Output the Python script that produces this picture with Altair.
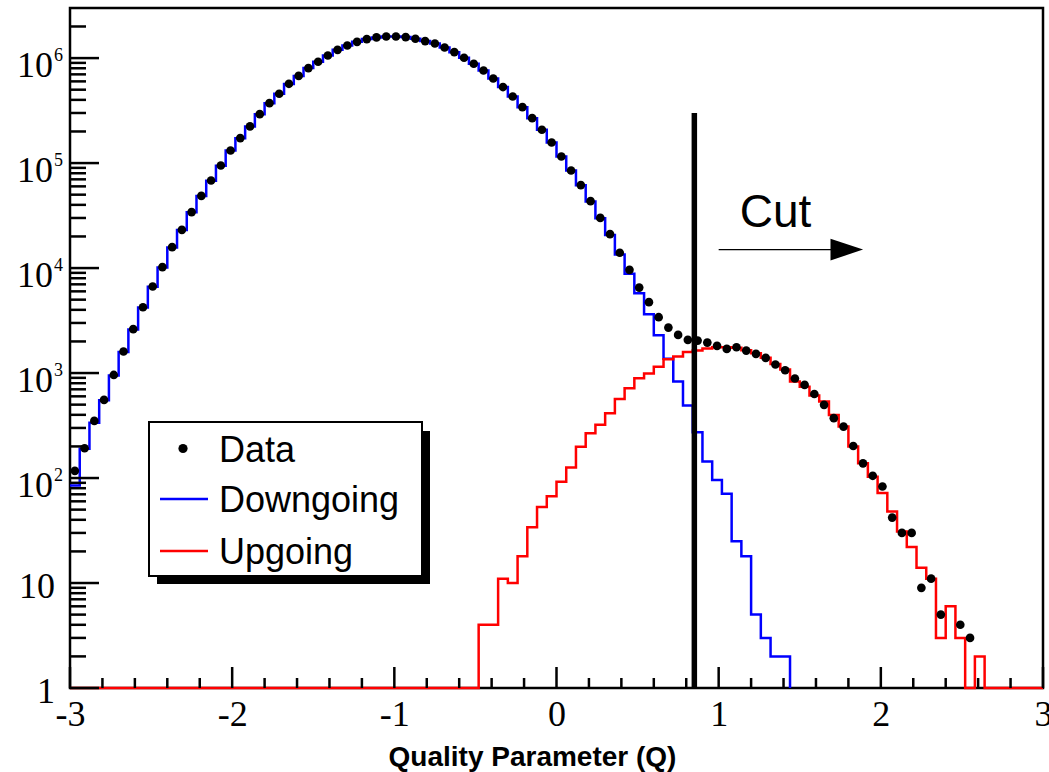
import altair as alt
import pandas as pd

# ---------------- binning / ranges ----------------
q_min, q_max = -3.0, 3.0
bin_width = 0.06
y_min, y_max = 1.0, 3.0e6

# ---------------- histogram contents (100 bins of 0.06 from -3 to 3) ----------------
data_counts = [
    117, 192, 350, 555, 959, 1603, 2618, 4236, 6668, 10210,
    15810, 23120, 34120, 48750, 68230, 94840, 131800, 173000, 223400, 292400,
    372400, 457100, 568900, 677600, 803500, 922600, 1059000, 1199000, 1318000, 1429000,
    1517000, 1574000, 1607000, 1607000, 1585000, 1528000, 1452000, 1377000, 1262000, 1140000,
    1007000, 883100, 762100, 639700, 529700, 430500, 341200, 267900, 207500, 157000,
    115600, 84920, 61660, 43350, 30060, 21040, 14000, 9616, 6516, 4732,
    3404, 2710, 2307, 2070, 2037, 1950, 1816, 1698, 1762, 1637,
    1524, 1393, 1205, 1064, 887, 771, 632, 498, 372, 309,
    202, 138, 105, 83, 42, 30, 30, 9, 11, 5,
    0, 4, 3, 0, 0, 0, 0, 0, 0, 0,
]

down_counts = [
    85, 190, 337, 550, 950, 1590, 2600, 4200, 6620, 10150,
    15700, 23000, 34000, 48600, 68000, 94500, 131500, 172500, 223000, 292000,
    372000, 456500, 568000, 677000, 803000, 922000, 1058000, 1198000, 1317000, 1428000,
    1516000, 1573000, 1606000, 1606000, 1584000, 1527000, 1451000, 1376000, 1261000, 1139000,
    1006000, 882000, 761000, 639000, 529500, 430300, 341000, 267800, 207400, 156900,
    115500, 84800, 61460, 43080, 29740, 20630, 13430, 8810, 5770, 3630,
    2290, 1370, 830, 490, 273, 144, 96, 71, 25, 18,
    5, 3, 2, 2,
]

up_counts = [0] * 42 + [
    4, 4, 11, 10, 18, 34, 53, 67, 92, 126,
    199, 267, 321, 414, 567, 717, 893, 990, 1150, 1355,
    1440, 1590, 1640, 1710, 1760, 1760, 1740, 1650, 1540, 1400,
    1220, 1080, 830, 740, 610, 535, 399, 309, 200, 138,
    103, 72, 48, 31, 22, 14, 11, 3, 6, 3,
    0, 2, 0, 0, 0, 0, 0, 0,
]

# ---------------- axes ----------------
x_major = [-3, -2, -1, 0, 1, 2, 3]
x_minor = [-2.8, -2.6, -2.4, -2.2, -1.8, -1.6, -1.4, -1.2, -0.8, -0.6, -0.4, -0.2,
           0.2, 0.4, 0.6, 0.8, 1.2, 1.4, 1.6, 1.8, 2.2, 2.4, 2.6, 2.8]
y_major = [1, 10, 100, 1e3, 1e4, 1e5, 1e6]
y_minor = [m * 10 ** k for k in range(6) for m in range(2, 10)] + [2e6]
y_label_base = ["1", "10", "10", "10", "10", "10", "10"]
y_label_exp = ["", "", "2", "3", "4", "5", "6"]

# ---------------- annotations ----------------
cut_q = 0.85
cut_top = 3.0e5
arrow_q = [1.0, 1.7]
arrow_head_q = 1.79
arrow_n = 1.5e4
cut_text = "Cut"
cut_text_q = 1.13
cut_text_n = 2.48e4

legend_labels = ["Data", "Downgoing", "Upgoing"]
blue = "#0000ff"
red = "#ff0000"

serif = "Liberation Serif"
sans = "Liberation Sans"

W, H = 973, 680


def step_rows(counts, drop_end):
    rows = []
    k = 0
    hi = q_min
    for i, c in enumerate(counts):
        lo = q_min + i * bin_width
        hi = lo + bin_width
        v = max(c, y_min)  # empty bins rest on the lower edge of the log axis
        rows.append({"q": lo, "n": v, "k": k}); k += 1
        rows.append({"q": hi, "n": v, "k": k}); k += 1
    if drop_end:
        rows.append({"q": hi, "n": y_min, "k": k})
    return pd.DataFrame(rows)


down_df = step_rows(down_counts, True)
up_df = step_rows(up_counts, False)
pts_df = pd.DataFrame({
    "q": [q_min + (i + 0.5) * bin_width for i in range(len(data_counts))],
    "n": data_counts,
})
pts_df = pts_df[pts_df["n"] > 0]

xscale = alt.Scale(domain=[q_min, q_max], nice=False, zero=False)
yscale = alt.Scale(type="log", domain=[y_min, y_max], nice=False)
xaxis = alt.Axis(
    values=x_major, labelExpr="datum.value + ''", ticks=False, tickSize=0, domain=False,
    grid=False, labelFont=serif, labelFontSize=36, labelColor="black",
    labelBaseline="alphabetic", labelPadding=37, labelFlush=False, labelOverlap=False,
    title="Quality Parameter (Q)", titleFont=sans, titleFontWeight="bold",
    titleFontSize=28, titleColor="black", titleX=462, titleY=77,
    titleAlign="center", titleBaseline="alphabetic",
)
X = alt.X("q:Q", scale=xscale, axis=xaxis)
Y = alt.Y("n:Q", scale=yscale, axis=None)

down_line = alt.Chart(down_df).mark_line(color=blue, strokeWidth=2.5).encode(
    x=X, y=Y, order="k:Q")
up_line = alt.Chart(up_df).mark_line(color=red, strokeWidth=2.5).encode(
    x=X, y=Y, order="k:Q")
points = alt.Chart(pts_df).mark_circle(color="black", size=75, opacity=1).encode(x=X, y=Y)

cut_df = pd.DataFrame({"q": [cut_q], "n": [y_min], "n2": [cut_top]})
cut_line = alt.Chart(cut_df).mark_rule(color="black", strokeWidth=5.5).encode(
    x=X, y=Y, y2="n2:Q")

arrow_df = pd.DataFrame({"q": [arrow_q[0]], "q2": [arrow_q[1]], "n": [arrow_n]})
arrow_line = alt.Chart(arrow_df).mark_rule(color="black", strokeWidth=1.3).encode(
    x=X, x2="q2:Q", y=Y)
head_df = pd.DataFrame({"q": [arrow_head_q], "n": [arrow_n]})
arrow_head = alt.Chart(head_df).mark_point(
    shape="M-1,-0.667L1,0L-1,0.667Z", size=1063, filled=True, color="black", opacity=1,
    strokeWidth=0).encode(x=X, y=Y)
cut_df2 = pd.DataFrame({"q": [cut_text_q], "n": [cut_text_n], "t": [cut_text]})
cut_label = alt.Chart(cut_df2).mark_text(
    font=sans, fontSize=46, align="left", baseline="alphabetic", color="black").encode(
    x=X, y=Y, text="t:N")

# ticks (inward, ROOT style)
xt_major = alt.Chart(pd.DataFrame({"q": x_major})).mark_rule(color="black", strokeWidth=2.5).encode(
    x=X, y=alt.value(H), y2=alt.value(H - 21))
xt_minor = alt.Chart(pd.DataFrame({"q": x_minor})).mark_rule(color="black", strokeWidth=2.5).encode(
    x=X, y=alt.value(H), y2=alt.value(H - 10))
yt_major = alt.Chart(pd.DataFrame({"n": y_major})).mark_rule(color="black", strokeWidth=2.5).encode(
    y=Y, x=alt.value(0), x2=alt.value(29))
yt_minor = alt.Chart(pd.DataFrame({"n": y_minor})).mark_rule(color="black", strokeWidth=2.5).encode(
    y=Y, x=alt.value(0), x2=alt.value(16))

ylab_df = pd.DataFrame({"n": y_major, "b": y_label_base, "e": y_label_exp})
ylab_plain = alt.Chart(ylab_df[ylab_df["e"] == ""]).mark_text(
    font=serif, fontSize=36, align="right", baseline="alphabetic", dy=14.5, color="black").encode(
    y=Y, x=alt.value(-15), text="b:N")
ylab_base = alt.Chart(ylab_df[ylab_df["e"] != ""]).mark_text(
    font=serif, fontSize=36, align="right", baseline="alphabetic", dy=18.5, color="black").encode(
    y=Y, x=alt.value(-17), text="b:N")
ylab_exp = alt.Chart(ylab_df[ylab_df["e"] != ""]).mark_text(
    font=serif, fontSize=18, align="left", baseline="alphabetic", dy=2.5, color="black").encode(
    y=Y, x=alt.value(-16), text="e:N")

# legend (ROOT TLegend with shadow)
one = alt.Data(values=[{"a": 1}])
leg_shadow = alt.Chart(one).mark_rect(color="black").encode(
    x=alt.value(87), x2=alt.value(360), y=alt.value(423), y2=alt.value(576))
leg_box = alt.Chart(one).mark_rect(fill="white", stroke="black", strokeWidth=2).encode(
    x=alt.value(79), x2=alt.value(352), y=alt.value(414), y2=alt.value(568))
leg_layers = [leg_shadow, leg_box]
row_y = [440.5, 491.0, 543.0]
leg_layers.append(alt.Chart(one).mark_circle(color="black", size=85, opacity=1).encode(
    x=alt.value(113), y=alt.value(row_y[0])))
leg_layers.append(alt.Chart(one).mark_rule(color=blue, strokeWidth=2.5).encode(
    x=alt.value(90), x2=alt.value(138), y=alt.value(row_y[1])))
leg_layers.append(alt.Chart(one).mark_rule(color=red, strokeWidth=2.5).encode(
    x=alt.value(90), x2=alt.value(138), y=alt.value(row_y[2])))
for lab, yy in zip(legend_labels, row_y):
    leg_layers.append(alt.Chart(one).mark_text(
        text=lab, font=sans, fontSize=36, align="left", baseline="alphabetic",
        color="black").encode(x=alt.value(149), y=alt.value(yy + 13)))

chart = alt.layer(
    down_line, up_line, points, cut_line, arrow_line, arrow_head, cut_label,
    xt_major, xt_minor, yt_major, yt_minor, ylab_plain, ylab_base, ylab_exp,
    *leg_layers,
).properties(
    width=W, height=H,
    padding={"left": 70, "top": 8, "right": 6, "bottom": 84},
    autosize=alt.AutoSizeParams(type="none"),
    background="white",
).configure_view(stroke="black", strokeWidth=2.5)

chart.save("out.html", embed_options={"renderer": "svg", "actions": False})
